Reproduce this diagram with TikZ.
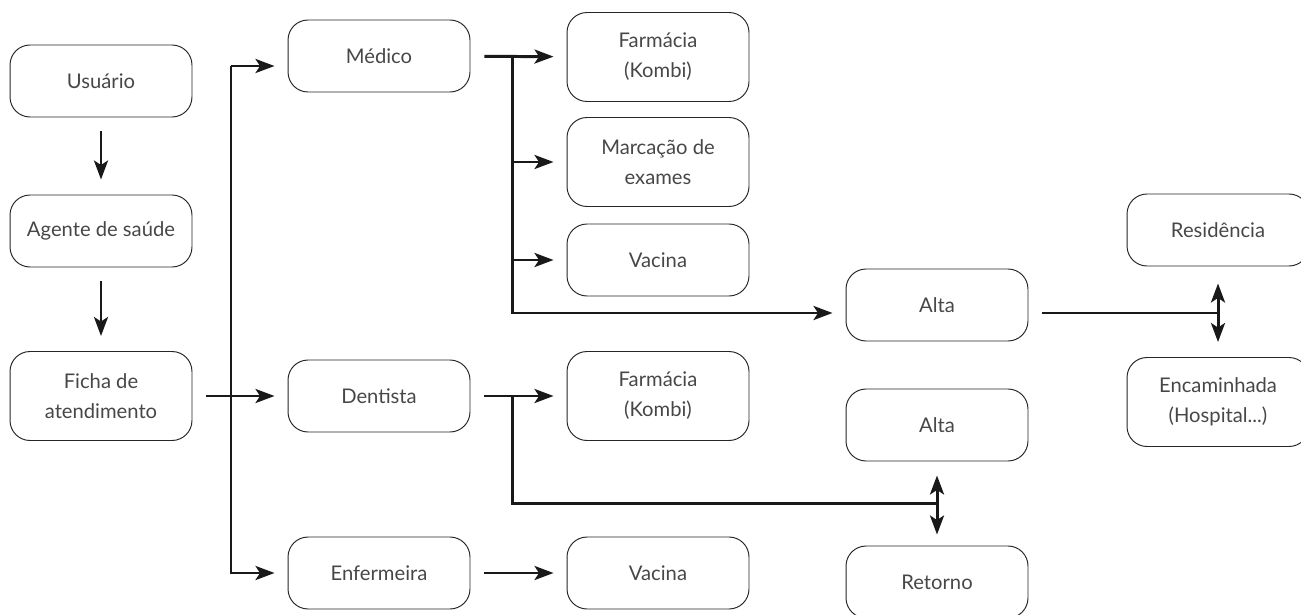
\documentclass[tikz,border=0pt]{standalone}
\usepackage{fontspec}
\setmainfont{Lato}
\usetikzlibrary{arrows.meta, calc}

\begin{document}
\begin{tikzpicture}[x=0.02cm, y=-0.02cm,
  box/.style={draw=black!85, line width=0.55pt, rounded corners=0.4cm,
    minimum width=3.64cm, minimum height=1.44cm, inner sep=0pt,
    align=center, text=black!72, font=\fontsize{11.5}{17}\selectfont},
  tallbox/.style={box, minimum height=1.78cm},
  link/.style={line width=1.7pt, draw=black!90},
  arr/.style={link, -{Stealth[length=0.38cm, width=0.28cm, inset=0.09cm]}, shorten >=0.26cm},
  gap/.style={shorten <=0.28cm},
  twoway/.style={link, {Stealth[length=0.38cm, width=0.28cm, inset=0.09cm]}-{Stealth[length=0.38cm, width=0.28cm, inset=0.09cm]},
    shorten <=0.3cm, shorten >=0.26cm}]

  % Fix the frame of the picture
  \useasboundingbox (0,0) rectangle (1301,615);
  \clip (0,0) rectangle (1301,615);

  % Left column
  \node[box] (usu) at (101,81) {Usuário};
  \node[box] (age) at (101,231) {Agente de saúde};
  \node[tallbox] (ficha) at (101,396) {Ficha de\\atendimento};

  % Professionals
  \node[box] (med) at (379,56) {Médico};
  \node[box] (den) at (379,396) {Dentista};
  \node[box] (enf) at (379,573) {Enfermeira};

  % Services
  \node[tallbox] (far1) at (658,57) {Farmácia\\(Kombi)};
  \node[tallbox] (marc) at (658,162) {Marcação de\\exames};
  \node[box] (vac1) at (658,260) {Vacina};
  \node[tallbox] (far2) at (658,396) {Farmácia\\(Kombi)};
  \node[box] (vac2) at (658,573) {Vacina};

  % Outcomes
  \node[box] (alta1) at (937,305) {Alta};
  \node[box] (alta2) at (937,425) {Alta};
  \node[box] (ret) at (937,582) {Retorno};
  \node[box] (res) at (1218,230) {Residência};
  \node[tallbox] (enc) at (1218,402) {Encaminhada\\(Hospital...)};

  % Helper coordinates
  \coordinate (tr) at (231,0);
  \coordinate (br) at (512,0);
  \coordinate (medin) at ([yshift=-0.2cm]med.west);
  \coordinate (altain) at ([yshift=-0.16cm]alta1.west);
  \coordinate (altaout) at ([yshift=-0.16cm]alta1.east);
  \coordinate (hubA) at (altaout -| res);
  \coordinate (hubB) at ($(alta2)!0.5!(ret)$);

  % Left column arrows
  \draw[arr, gap, shorten >=0.3cm] (usu) -- (age);
  \draw[arr, gap, shorten >=0.3cm] (age) -- (ficha);

  % Trunk to the professionals
  \draw[arr, gap] (ficha) -- (den);
  \draw[arr] (medin -| tr) -- (medin);
  \draw[arr] (medin -| tr) |- (enf.west);

  % Médico branch
  \draw[arr, gap] (med) -- (far1);
  \draw[arr] (marc.west -| br) -- (marc);
  \draw[arr] (vac1.west -| br) -- (vac1);
  \draw[arr] (med.east -| br) |- (altain);

  % Alta to Residência / Encaminhada
  \draw[link, gap] (altaout) -- (hubA);
  \draw[twoway, shorten <=0.34cm, shorten >=0.3cm] (res) -- (enc);

  % Dentista branch
  \draw[arr, gap] (den) -- (far2);
  \draw[link] (den.east -| br) |- (hubB);
  \draw[twoway, shorten <=0.28cm, shorten >=0.22cm] (alta2) -- (ret);

  % Enfermeira branch
  \draw[arr, gap] (enf) -- (vac2);
\end{tikzpicture}
\end{document}
